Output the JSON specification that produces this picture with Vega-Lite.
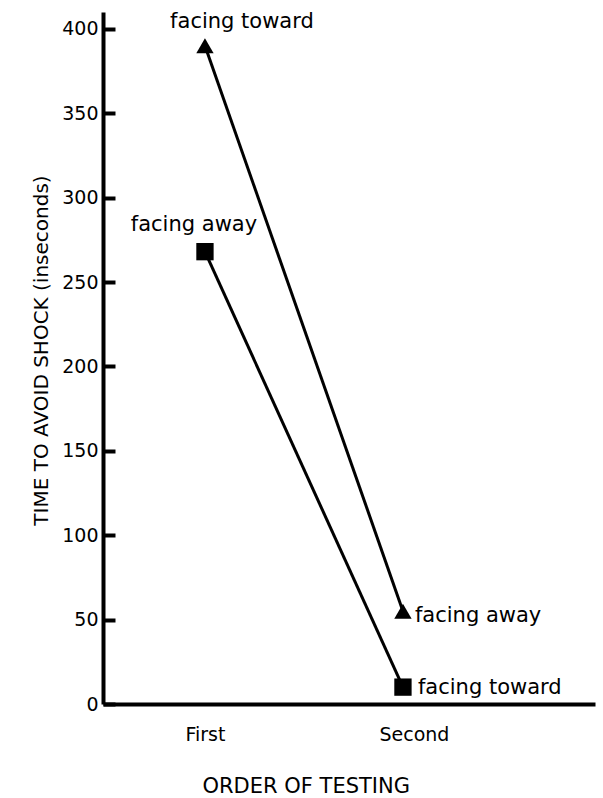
{
  "$schema": "https://vega.github.io/schema/vega-lite/v6.json",
  "width": 492,
  "height": 692,
  "autosize": "none",
  "padding": {"left": 103, "top": 12, "right": 8, "bottom": 94},
  "background": "white",
  "config": {"view": {"stroke": null}, "font": "DejaVu Sans"},
  "data": {
    "values": [
      {"order": 1, "series": "A", "time": 390, "label": "facing toward", "pos": "A1"},
      {"order": 2, "series": "A", "time": 55, "label": "facing away", "pos": "A2"},
      {"order": 1, "series": "B", "time": 268, "label": "facing away", "pos": "B1"},
      {"order": 2, "series": "B", "time": 10, "label": "facing toward", "pos": "B2"}
    ]
  },
  "encoding": {
    "x": {
      "field": "order",
      "type": "quantitative",
      "scale": {"domain": [0.485, 2.97], "nice": false, "zero": false},
      "axis": {
        "title": "ORDER OF TESTING",
        "values": [1, 2],
        "labelExpr": "datum.value == 1 ? 'First' : 'Second'",
        "ticks": false,
        "grid": false,
        "domainColor": "black",
        "domainWidth": 4,
        "labelFontSize": 19,
        "labelColor": "black",
        "labelPadding": 21,
        "labelOffset": {"condition": {"test": "datum.value == 2", "value": 11}, "value": 0},
        "titleFontSize": 21,
        "titleFontWeight": "normal",
        "titleColor": "black",
        "titleX": 99,
        "titleY": 88,
        "titleAlign": "left",
        "titleBaseline": "alphabetic"
      }
    },
    "y": {
      "field": "time",
      "type": "quantitative",
      "scale": {"domain": [0, 410], "nice": false},
      "axis": null
    }
  },
  "resolve": {"axis": {"y": "independent"}},
  "layer": [
    {
      "mark": {"type": "line", "color": "black", "strokeWidth": 3},
      "encoding": {
        "detail": {"field": "series"},
        "y": {
          "field": "time",
          "type": "quantitative",
          "axis": {
            "title": "TIME TO AVOID SHOCK (inseconds)",
            "values": [0, 50, 100, 150, 200, 250, 300, 350, 400],
            "grid": false,
            "ticks": false,
            "domainColor": "black",
            "domainWidth": 4,
            "labelFontSize": 19,
            "labelColor": "black",
            "labelPadding": 5,
            "titleFontSize": 20,
            "titleFontWeight": "normal",
            "titleColor": "black",
            "titleX": -56,
            "titleY": 338,
            "titleBaseline": "alphabetic"
          }
        }
      }
    },
    {
      "mark": {"type": "point", "opacity": 0},
      "encoding": {
        "y": {
          "field": "time",
          "type": "quantitative",
          "axis": {
            "orient": "right",
            "offset": -492,
            "values": [0, 50, 100, 150, 200, 250, 300, 350, 400],
            "labels": false,
            "domain": false,
            "grid": false,
            "title": null,
            "tickSize": 12,
            "tickWidth": 4,
            "tickColor": "black"
          }
        }
      }
    },
    {
      "mark": {"type": "point", "filled": true, "color": "black", "size": 300, "opacity": 1},
      "encoding": {
        "shape": {
          "field": "series",
          "type": "nominal",
          "scale": {"domain": ["A", "B"], "range": ["triangle-up", "square"]},
          "legend": null
        }
      }
    },
    {
      "transform": [{"filter": "datum.pos == 'A1'"}],
      "mark": {"type": "text", "fontSize": 21, "color": "black", "align": "center", "baseline": "alphabetic", "dx": 37, "dy": -18},
      "encoding": {"text": {"field": "label"}}
    },
    {
      "transform": [{"filter": "datum.pos == 'B1'"}],
      "mark": {"type": "text", "fontSize": 21, "color": "black", "align": "center", "baseline": "alphabetic", "dx": -11, "dy": -21},
      "encoding": {"text": {"field": "label"}}
    },
    {
      "transform": [{"filter": "datum.pos == 'A2'"}],
      "mark": {"type": "text", "fontSize": 21, "color": "black", "align": "left", "baseline": "alphabetic", "dx": 12, "dy": 11},
      "encoding": {"text": {"field": "label"}}
    },
    {
      "transform": [{"filter": "datum.pos == 'B2'"}],
      "mark": {"type": "text", "fontSize": 21, "color": "black", "align": "left", "baseline": "alphabetic", "dx": 15, "dy": 7},
      "encoding": {"text": {"field": "label"}}
    }
  ]
}
